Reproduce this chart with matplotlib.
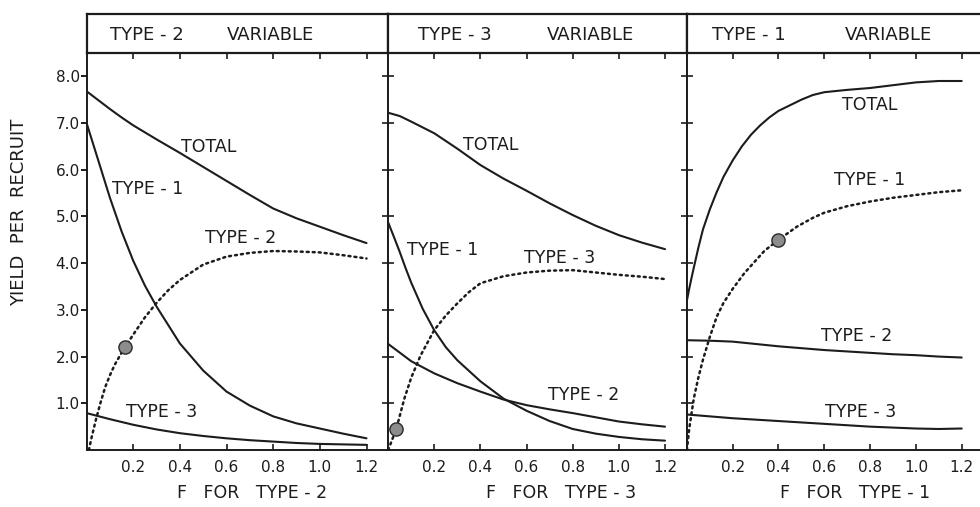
import matplotlib
matplotlib.use("Agg")
import matplotlib.pyplot as plt

plt.rcParams['font.family'] = ['DejaVu Sans']

# ---------------- data ----------------
# Panel 1: Type-2 variable
f_tot1 = [0, 0.05, 0.1, 0.15, 0.2, 0.3, 0.4, 0.5, 0.6, 0.7, 0.8, 0.9, 1.0, 1.1, 1.2]
total1 = [7.68, 7.49, 7.3, 7.12, 6.95, 6.65, 6.36, 6.06, 5.76, 5.46, 5.17, 4.96, 4.78, 4.6, 4.43]
f_t1_1 = [0, 0.025, 0.05, 0.075, 0.1, 0.15, 0.2, 0.25, 0.3, 0.4, 0.5, 0.6, 0.7, 0.8, 0.9, 1.0, 1.1, 1.2]
type1_1 = [7.0, 6.6, 6.2, 5.8, 5.4, 4.68, 4.05, 3.52, 3.07, 2.28, 1.7, 1.25, 0.95, 0.72, 0.57, 0.46, 0.35, 0.25]
f_t2_1 = [0.01, 0.02, 0.04, 0.06, 0.08, 0.1, 0.12, 0.16, 0.2, 0.25, 0.3, 0.35, 0.4, 0.5, 0.6, 0.7, 0.8, 0.9, 1.0, 1.1, 1.2]
type2_1 = [0.0, 0.24, 0.65, 1.02, 1.35, 1.6, 1.82, 2.17, 2.47, 2.84, 3.15, 3.42, 3.64, 3.97, 4.14, 4.22, 4.26, 4.25, 4.23, 4.17, 4.10]
f_t3_1 = [0, 0.1, 0.2, 0.3, 0.4, 0.5, 0.6, 0.7, 0.8, 0.9, 1.0, 1.1, 1.2]
type3_1 = [0.79, 0.66, 0.54, 0.44, 0.36, 0.30, 0.25, 0.21, 0.18, 0.15, 0.13, 0.12, 0.11]
point1 = (0.165, 2.2)

# Panel 2: Type-3 variable
f_tot2 = [0, 0.05, 0.1, 0.2, 0.3, 0.4, 0.5, 0.6, 0.7, 0.8, 0.9, 1.0, 1.1, 1.2]
total2 = [7.22, 7.15, 7.03, 6.78, 6.45, 6.1, 5.81, 5.55, 5.28, 5.03, 4.8, 4.6, 4.44, 4.3]
f_t1_2 = [0, 0.025, 0.05, 0.075, 0.1, 0.15, 0.2, 0.25, 0.3, 0.4, 0.5, 0.6, 0.7, 0.8, 0.9, 1.0, 1.1, 1.2]
type1_2 = [4.87, 4.56, 4.24, 3.9, 3.58, 3.02, 2.56, 2.2, 1.92, 1.47, 1.1, 0.84, 0.62, 0.45, 0.35, 0.28, 0.23, 0.2]
f_t2_2 = [0, 0.1, 0.2, 0.3, 0.4, 0.5, 0.6, 0.7, 0.8, 0.9, 1.0, 1.1, 1.2]
type2_2 = [2.27, 1.9, 1.64, 1.43, 1.25, 1.08, 0.96, 0.87, 0.79, 0.7, 0.61, 0.55, 0.5]
f_t3_2 = [0, 0.035, 0.07, 0.1, 0.14, 0.2, 0.25, 0.3, 0.35, 0.4, 0.5, 0.6, 0.7, 0.8, 0.9, 1.0, 1.1, 1.2]
type3_2 = [0, 0.45, 1.1, 1.55, 2.02, 2.57, 2.88, 3.14, 3.38, 3.57, 3.72, 3.80, 3.84, 3.85, 3.80, 3.75, 3.71, 3.66]
point2 = (0.035, 0.45)

# Panel 3: Type-1 variable
f_tot3 = [0, 0.01, 0.02, 0.03, 0.05, 0.07, 0.1, 0.13, 0.16, 0.2, 0.24, 0.28, 0.32, 0.36, 0.4,
          0.45, 0.5, 0.55, 0.6, 0.7, 0.8, 0.9, 1.0, 1.1, 1.2]
total3 = [3.2, 3.45, 3.68, 3.9, 4.33, 4.72, 5.15, 5.52, 5.85, 6.2, 6.5, 6.75, 6.95, 7.12, 7.26,
          7.38, 7.5, 7.6, 7.66, 7.71, 7.75, 7.81, 7.87, 7.9, 7.9]
f_t1_3 = [0.0, 0.01, 0.03, 0.05, 0.07, 0.1, 0.13, 0.16, 0.2, 0.25, 0.29, 0.34, 0.4, 0.48, 0.55,
          0.6, 0.7, 0.8, 0.9, 1.0, 1.1, 1.2]
type1_3 = [0.0, 0.45, 1.1, 1.55, 1.93, 2.42, 2.85, 3.15, 3.45, 3.78, 4.0, 4.27, 4.5, 4.78, 4.97,
           5.08, 5.22, 5.32, 5.40, 5.46, 5.52, 5.56]
f_t2_3 = [0, 0.1, 0.2, 0.3, 0.4, 0.5, 0.6, 0.7, 0.8, 0.9, 1.0, 1.1, 1.2]
type2_3 = [2.35, 2.34, 2.32, 2.27, 2.22, 2.18, 2.14, 2.11, 2.08, 2.05, 2.03, 2.0, 1.98]
type3_3 = [0.76, 0.72, 0.68, 0.65, 0.62, 0.59, 0.56, 0.53, 0.50, 0.48, 0.46, 0.45, 0.46]
point3 = (0.40, 4.5)

x_ticks = [0.2, 0.4, 0.6, 0.8, 1.0, 1.2]
x_tick_labels = ['0.2', '0.4', '0.6', '0.8', '1.0', '1.2']
y_ticks = [1, 2, 3, 4, 5, 6, 7, 8]
y_tick_labels = ['1.0', '2.0', '3.0', '4.0', '5.0', '6.0', '7.0', '8.0']

headers = [("TYPE - 2", "VARIABLE"), ("TYPE - 3", "VARIABLE"), ("TYPE - 1", "VARIABLE")]
xlabels = ["F   FOR   TYPE - 2", "F   FOR   TYPE - 3", "F   FOR   TYPE - 1"]

# ---------------- layout ----------------
W, H = 980, 507
fig = plt.figure(figsize=(W / 100, H / 100), dpi=100)
INK = '#1c1c1c'


def rect(l, r, top, bottom):
    return [l / W, 1 - bottom / H, (r - l) / W, (bottom - top) / H]


def fx(px):
    return px / W


def fy(py):
    return 1 - py / H


panel_lr = [(86.6, 387.5), (387.5, 686.9), (686.9, 980)]
xlims = [(0, 1.29), (-0.003, 1.295), (0, 1.28)]
PLOT_TOP, PLOT_BOT = 52.5, 450
HEAD_TOP = 14

axes = []
for i, (l, r) in enumerate(panel_lr):
    ax = fig.add_axes(rect(l, r, PLOT_TOP, PLOT_BOT))
    ax.set_xlim(*xlims[i])
    ax.set_ylim(0, 8.51)
    for s in ax.spines.values():
        s.set_linewidth(1.4)
        s.set_color(INK)
    if i == 2:
        ax.spines['right'].set_visible(False)
    ax.set_xticks(x_ticks)
    ax.set_xticklabels(x_tick_labels)
    ax.tick_params(axis='x', direction='in', top=True, bottom=True, length=4,
                   width=1.2, colors=INK, labelsize=11, pad=7)
    ax.set_yticks(y_ticks)
    if i == 0:
        ax.set_yticklabels(y_tick_labels)
        ax.tick_params(axis='y', direction='out', length=4, width=1.4,
                       colors=INK, labelsize=11, pad=1)
    else:
        ax.set_yticklabels([])
        ax.tick_params(axis='y', direction='inout', length=8, width=1.2,
                       colors=INK)
    axes.append(ax)

    hax = fig.add_axes(rect(l, r, HEAD_TOP, PLOT_TOP))
    hax.set_xticks([])
    hax.set_yticks([])
    for name, s in hax.spines.items():
        s.set_linewidth(1.6)
        s.set_color(INK)
    if i == 2:
        hax.spines['right'].set_visible(False)

# header texts (left px positions)
head_pos = [(110, 227), (418, 547), (712, 845)]
for (a, b), (pa, pb) in zip(headers, head_pos):
    fig.text(fx(pa), fy(35), a, fontsize=13, color=INK, ha='left', va='center')
    fig.text(fx(pb), fy(35), b, fontsize=13, color=INK, ha='left', va='center')

xl_pos = [252, 561, 855]
for t, p in zip(xlabels, xl_pos):
    fig.text(fx(p), fy(493), t, fontsize=12.5, color=INK, ha='center', va='center')

fig.text(fx(19), fy(212), "YIELD  PER  RECRUIT", rotation=90, fontsize=13,
         color=INK, ha='center', va='center')

solid = dict(color=INK, lw=1.5, solid_capstyle='round', solid_joinstyle='round')
dotted = dict(color=INK, lw=1.8, linestyle=(0, (0.8, 1.6)), dash_capstyle='round')
mk = dict(marker='o', ms=9.5, mfc='#8c8c8c', mec='#2a2a2a', mew=1.0, ls='none', zorder=5)
lab = dict(fontsize=12.5, color=INK, ha='center', va='center')

# Panel 1
ax = axes[0]
ax.plot(f_tot1, total1, **solid)
ax.plot(f_t1_1, type1_1, **solid)
ax.plot(f_t2_1, type2_1, **dotted)
ax.plot(f_t3_1, type3_1, **solid)
ax.plot([point1[0]], [point1[1]], **mk)
ax.text(0.525, 6.49, "TOTAL", **lab)
ax.text(0.26, 5.58, "TYPE - 1", **lab)
ax.text(0.66, 4.54, "TYPE - 2", **lab)
ax.text(0.32, 0.82, "TYPE - 3", **lab)

# Panel 2
ax = axes[1]
ax.plot(f_tot2, total2, **solid)
ax.plot(f_t1_2, type1_2, **solid)
ax.plot(f_t2_2, type2_2, **solid)
ax.plot(f_t3_2, type3_2, **dotted)
ax.plot([point2[0]], [point2[1]], **mk)
ax.text(0.446, 6.53, "TOTAL", **lab)
ax.text(0.235, 4.29, "TYPE - 1", **lab)
ax.text(0.745, 4.10, "TYPE - 3", **lab)
ax.text(0.849, 1.18, "TYPE - 2", **lab)

# Panel 3
ax = axes[2]
ax.plot(f_tot3, total3, **solid)
ax.plot(f_t1_3, type1_3, **dotted)
ax.plot(f_t2_3, type2_3, **solid)
ax.plot(f_t2_3, type3_3, **solid)
ax.plot([point3[0]], [point3[1]], **mk)
ax.text(0.80, 7.39, "TOTAL", **lab)
ax.text(0.80, 5.78, "TYPE - 1", **lab)
ax.text(0.74, 2.43, "TYPE - 2", **lab)
ax.text(0.76, 0.82, "TYPE - 3", **lab)

fig.savefig("out.png", dpi=100, facecolor='white')
